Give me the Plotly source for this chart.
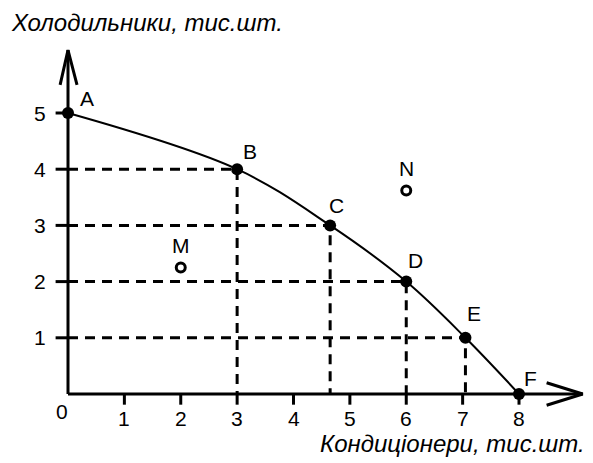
import plotly.graph_objects as go

# Data
point_labels = ["A", "B", "C", "D", "E", "F"]
ac_values = [0, 3, 4.65, 6, 7.05, 8]          # кондиціонери
fridge_values = [5, 4, 3, 2, 1, 0]             # холодильники
extra_labels = ["M", "N"]
extra_x = [2, 6]
extra_y = [2.25, 3.62]
x_ticks = [1, 2, 3, 4, 5, 6, 7, 8]
y_ticks = [1, 2, 3, 4, 5]
x_title = "Кондиціонери, тис.шт."
y_title = "Холодильники, тис.шт."

X_MAX = 9.13
Y_MAX = 6.12
FONT = "Liberation Sans, Arial, sans-serif"
NUM_SIZE = 21
LET_SIZE = 21
TITLE_SIZE = 24

fig = go.Figure()

# dashed guide lines
for lab, xv, yv in zip(point_labels, ac_values, fridge_values):
    if lab in ("B", "C", "D", "E"):
        fig.add_trace(go.Scatter(x=[0, xv, xv], y=[yv, yv, 0], mode="lines",
                                 line=dict(color="black", width=3, dash="10px,7px"),
                                 hoverinfo="skip", showlegend=False))

# axes lines
fig.add_trace(go.Scatter(x=[0, X_MAX], y=[0, 0], mode="lines",
                         line=dict(color="black", width=3), hoverinfo="skip", showlegend=False))
fig.add_trace(go.Scatter(x=[0, 0], y=[0, Y_MAX], mode="lines",
                         line=dict(color="black", width=3), hoverinfo="skip", showlegend=False))
# arrowheads (chevrons)
fig.add_trace(go.Scatter(x=[X_MAX - 0.64, X_MAX, X_MAX - 0.64], y=[0.2, 0, -0.2], mode="lines",
                         line=dict(color="black", width=3), hoverinfo="skip", showlegend=False))
fig.add_trace(go.Scatter(x=[-0.14, 0, 0.16], y=[Y_MAX - 0.62, Y_MAX, Y_MAX - 0.62], mode="lines",
                         line=dict(color="black", width=3), hoverinfo="skip", showlegend=False))

# ticks
for t in x_ticks:
    fig.add_trace(go.Scatter(x=[t, t], y=[0, -0.19], mode="lines",
                             line=dict(color="black", width=3), hoverinfo="skip", showlegend=False))
for t in y_ticks:
    fig.add_trace(go.Scatter(x=[0, -0.22], y=[t, t], mode="lines",
                             line=dict(color="black", width=3), hoverinfo="skip", showlegend=False))

# curve
fig.add_trace(go.Scatter(x=ac_values, y=fridge_values, mode="lines",
                         line=dict(color="black", width=2, shape="spline", smoothing=1.0),
                         hoverinfo="skip", showlegend=False))
# points
fig.add_trace(go.Scatter(x=ac_values, y=fridge_values, mode="markers",
                         marker=dict(color="black", size=12), showlegend=False))
fig.add_trace(go.Scatter(x=extra_x, y=extra_y, mode="markers",
                         marker=dict(color="white", size=9, line=dict(color="black", width=3)),
                         showlegend=False))

# point labels
label_off = {"A": (0.34, 0.25), "B": (0.23, 0.31), "C": (0.12, 0.36), "D": (0.17, 0.38),
             "E": (0.15, 0.44), "F": (0.2, 0.28)}
for lab, xv, yv in zip(point_labels, ac_values, fridge_values):
    dx, dy = label_off[lab]
    fig.add_annotation(x=xv + dx, y=yv + dy, text=lab, showarrow=False,
                       font=dict(family=FONT, size=LET_SIZE, color="black"))
for lab, xv, yv in zip(extra_labels, extra_x, extra_y):
    fig.add_annotation(x=xv, y=yv + 0.4, text=lab, showarrow=False,
                       font=dict(family=FONT, size=LET_SIZE, color="black"))

# tick labels
for t in x_ticks:
    fig.add_annotation(x=t, y=-0.44, text=str(t), showarrow=False,
                       font=dict(family=FONT, size=NUM_SIZE, color="black"))
fig.add_annotation(x=-0.1, y=-0.31, text="0", showarrow=False,
                   font=dict(family=FONT, size=NUM_SIZE, color="black"))
for t in y_ticks:
    fig.add_annotation(x=-0.5, y=t, text=str(t), showarrow=False,
                       font=dict(family=FONT, size=NUM_SIZE, color="black"))

# axis titles
fig.add_annotation(xref="paper", yref="paper", x=9 / 593, y=1 - 22 / 463, text="<i>" + y_title + "</i>",
                   showarrow=False, xanchor="left", yanchor="middle",
                   font=dict(family=FONT, size=TITLE_SIZE, color="black"))
fig.add_annotation(xref="paper", yref="paper", x=587 / 593, y=1 - 443 / 463, text="<i>" + x_title + "</i>",
                   showarrow=False, xanchor="right", yanchor="middle",
                   font=dict(family=FONT, size=TITLE_SIZE, color="black"))

px_per_x = (519 - 68) / 8
px_per_y = (394 - 113) / 5
fig.update_layout(
    width=593, height=463,
    margin=dict(l=0, r=0, t=0, b=0),
    paper_bgcolor="white", plot_bgcolor="white",
    xaxis=dict(range=[-68 / px_per_x, (593 - 68) / px_per_x], visible=False, fixedrange=True),
    yaxis=dict(range=[-(463 - 394) / px_per_y, 394 / px_per_y], visible=False, fixedrange=True),
    showlegend=False,
)

fig.write_html("out.html", config={"displayModeBar": False},
               post_script="document.body.style.margin='0';document.body.style.overflow='hidden';")
